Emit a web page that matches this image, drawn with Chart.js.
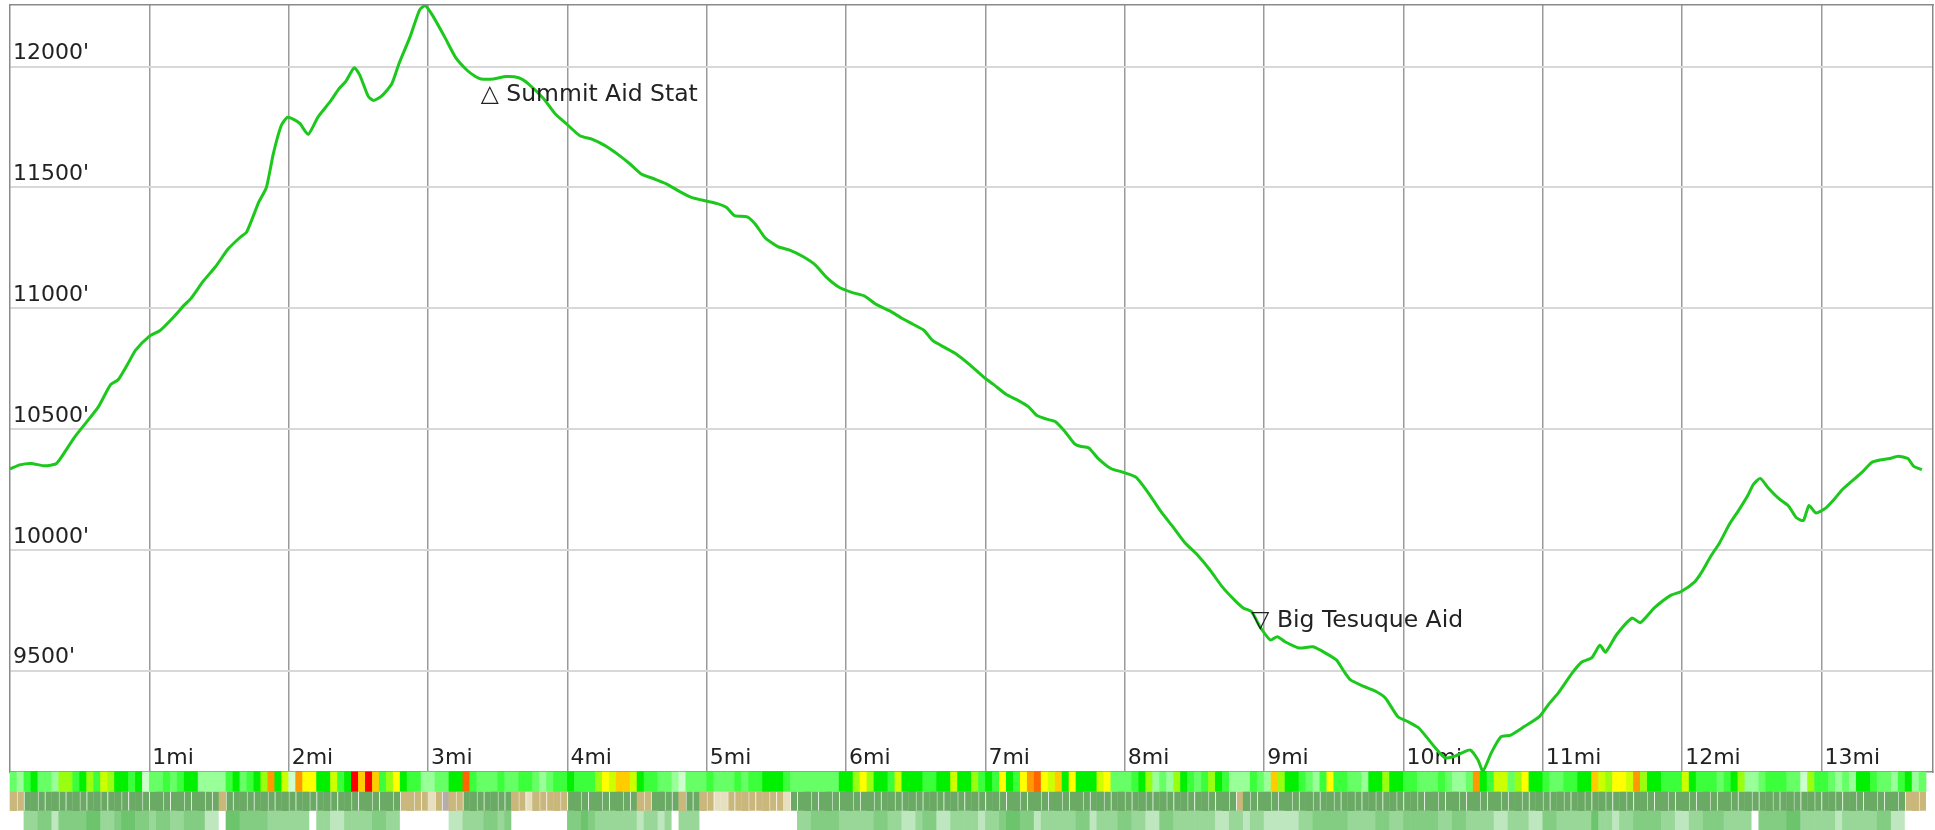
<!DOCTYPE html>
<html>
<head>
<meta charset="utf-8">
<script src="https://cdn.jsdelivr.net/npm/chart.js@4.4.1/dist/chart.umd.min.js"></script>
<style>
  html, body { margin: 0; padding: 0; background: #ffffff; }
  #wrap { width: 1935px; height: 830px; position: relative; }
</style>
</head>
<body>
<div id="wrap"><canvas id="chart"></canvas></div>
<script>
// ---------- DATA ----------
const miles = [
  0.00, 0.07, 0.15, 0.25, 0.33, 0.37, 0.46, 0.545, 0.634, 0.722, 0.776, 0.856, 0.90, 0.997,
  1.077, 1.166, 1.254, 1.299, 1.387, 1.476, 1.565, 1.654, 1.698, 1.786, 1.84, 1.89, 1.946, 1.99,
  2.035, 2.08, 2.14, 2.21, 2.30, 2.36, 2.41, 2.47, 2.51, 2.57, 2.61, 2.67, 2.74, 2.79, 2.87, 2.94, 2.98,
  3.03, 3.12, 3.20, 3.28, 3.34, 3.38, 3.47, 3.56, 3.65, 3.72, 3.83, 3.91, 3.99,
  4.09, 4.18, 4.27, 4.36, 4.45, 4.53, 4.62, 4.71, 4.80, 4.89, 4.995,
  5.07, 5.14, 5.20, 5.29, 5.35, 5.42, 5.51, 5.60, 5.69, 5.78, 5.86, 5.95,
  6.04, 6.13, 6.22, 6.31, 6.40, 6.48, 6.56, 6.62, 6.71, 6.79, 6.88, 6.99,
  7.06, 7.15, 7.24, 7.31, 7.37, 7.44, 7.50, 7.57, 7.64, 7.68, 7.74, 7.81, 7.90, 7.99,
  8.08, 8.17, 8.26, 8.35, 8.43, 8.52, 8.61, 8.70, 8.79, 8.85, 8.91, 8.97,
  9.045, 9.095, 9.15, 9.25, 9.35, 9.45, 9.52, 9.57, 9.62, 9.72, 9.80, 9.87, 9.96,
  10.03, 10.11, 10.23, 10.30, 10.36, 10.42, 10.48, 10.535, 10.57, 10.63, 10.70, 10.77, 10.87, 10.975,
  11.04, 11.11, 11.21, 11.28, 11.35, 11.41, 11.45, 11.53, 11.64, 11.70, 11.80, 11.92, 11.99,
  12.09, 12.14, 12.20, 12.27, 12.34, 12.41, 12.47, 12.51, 12.56, 12.62, 12.69, 12.76, 12.82, 12.87, 12.91, 12.96,
  13.03, 13.09, 13.15, 13.22, 13.29, 13.36, 13.42, 13.49, 13.55, 13.62, 13.66, 13.72
];
const elevations = [
  10335, 10352, 10358, 10348, 10356, 10385, 10464, 10526, 10592, 10684, 10704, 10781, 10826, 10883,
  10908, 10959, 11015, 11041, 11112, 11173, 11245, 11295, 11315, 11440, 11500, 11640, 11755, 11790,
  11782, 11765, 11720, 11791, 11857, 11908, 11939, 11995, 11965, 11878, 11860, 11880, 11929, 12010, 12122, 12235, 12252,
  12214, 12122, 12036, 11985, 11959, 11949, 11949, 11959, 11954, 11929, 11867, 11806, 11765,
  11714, 11699, 11673, 11638, 11597, 11556, 11536, 11515, 11485, 11459, 11444,
  11434, 11418, 11383, 11378, 11347, 11291, 11255, 11240, 11214, 11179, 11128, 11087,
  11066, 11051, 11015, 10990, 10959, 10934, 10908, 10867, 10837, 10811, 10770, 10714,
  10684, 10643, 10617, 10592, 10556, 10541, 10531, 10490, 10439, 10429, 10423, 10378, 10337, 10321,
  10301, 10235, 10158, 10092, 10031, 9980, 9918, 9847, 9791, 9760, 9744, 9682,
  9627, 9641, 9620, 9594, 9599, 9570, 9544, 9500, 9462, 9434, 9415, 9387, 9310,
  9290, 9263, 9180, 9139, 9145, 9160, 9172, 9131, 9085, 9160, 9227, 9234, 9270, 9310,
  9360, 9407, 9490, 9536, 9553, 9606, 9577, 9650, 9718, 9699, 9760, 9813, 9827,
  9868, 9908, 9969, 10031, 10107, 10168, 10224, 10270, 10296, 10255, 10214, 10184, 10133, 10122, 10184, 10153,
  10173, 10209, 10250, 10286, 10321, 10362, 10372, 10378, 10388, 10378, 10347, 10332
];
const yTickValues = [9500, 10000, 10500, 11000, 11500, 12000];
const xTickValues = [1, 2, 3, 4, 5, 6, 7, 8, 9, 10, 11, 12, 13];

const annotationLabels = ['Summit Aid Stat', 'Big Tesuque Aid'];
const annotationSymbols = ['\u25B3', '\u25BD'];
const annotationMiles = [3.45, 8.98];
const annotationElevations = [11940, 9682];

// strip bands along the track (one code per 0.05 mi segment)
const stripStep = 0.05;
const slopeCodes =
  'CDBACCDFFBAFBHFAABAECCBCBAADDDDBACBAFOAHEOYYAA' +
  'HBARJRJBFYABBDDCCAAQBCCCBCCBBCDCBBABBBFYHJJHAB' +
  'BCCDECCCBCCCBCBBAAABCCCCCCCAAFYFAABHAAABBAAHAA' +
  'FBABYABYOQYHJAYAAAHYCCCBAFDCDFABCBFABDDDBCDJFA' +
  'ABCDBYBBCCDAAFAABBCCCBCDDCOABHHCFYAABCCBBAAJH' +
  'FYYHOFAABBBHABBBCBAFDDCBBBCCEFBBCDCDAABCCDBADC';
const surfaceCodes =
  'TTGGGGGGGGGGGGGGGGGGGGGGGGGGGGTGGGGGGGGGGGGGGG' +
  'GGGGGGGGGGTTTTPTSTTGGGGGGGTTPTTTTTGGGGGGGGGGTT' +
  'GGGGTGGTTPPTTTTTTTTPGGGGGGGGGGGGGGGGGGGGGGGGGG' +
  'GGGGGGGGGGGGGGGGGGGGGGGGGGGGGGGGGGGGGGTGGGGGGG' +
  'GGGGGGGGGGGGGGGGGGGGGGGGGGGGGGGGGGGGGGGGGGGGG' +
  'GGGGGGGGGGGGGGGGGGGGGGGGGGGGGGGGGGGGGGGGGGGTTT';
const coverCodes =
  'wwccbbdbbbbaaccbaabbcbbccbbbddwaabbbbccccccwc' +
  'cddccccbbccwwwwwwwddcccbbcbwwwwwwwwbbabccccccdc' +
  'cdcwcccwwwwwwwwwwwwwwccbbbbcccccbbccddcbbddc' +
  'cccdccbaabbdcccccbbdcccbbccddbbccccccddccdccdd' +
  'dddccbbbbbccccbbccbbbbbccbbccccddcccddbbcccccacc' +
  'dccbbbbccddccbbbccccwbbbbaacccccdcccccbbddwww';

// ---------- STYLES ----------
const slopeColors = {
  A: '#00f000', B: '#3cff3c', C: '#66ff66', D: '#99ff99', E: '#ccffcc',
  F: '#99ff11', H: '#ccff00', Y: '#ffff00', J: '#ffcc00', O: '#ff9900', Q: '#ff6600', R: '#ff0000'
};
const surfaceColors = { G: '#6aaa64', T: '#c9b77c', P: '#e6e0c0', S: '#b5aea6' };
const coverColors = { a: '#6cc46c', b: '#82cd82', c: '#99d799', d: '#bfe7bf', w: '#ffffff' };

const FONT = "'DejaVu Sans'";
Chart.defaults.font.family = FONT;

function bandDataset(codes, colors, lo, hi, label, withLines) {
  const chars = codes.split('');
  return {
    type: 'bar',
    label: label,
    xAxisID: 'x',
    yAxisID: 'yb',
    data: chars.map((c, i) => ({ x: (i + 0.5) * stripStep, y: [lo, hi] })),
    backgroundColor: chars.map(c => colors[c]),
    borderWidth: withLines ? (ctx => (ctx.dataIndex % 3 === 0 ? 0 : { left: 1, right: 0, top: 0, bottom: 0 })) : 0,
    borderColor: 'rgba(255,255,255,0.28)',
    borderSkipped: false,
    barPercentage: 1,
    categoryPercentage: 1,
    grouped: false,
    clip: false
  };
}

const annotationPlugin = {
  id: 'waypoints',
  afterDatasetsDraw(chart) {
    const { ctx, scales } = chart;
    ctx.save();
    ctx.font = '23.5px ' + FONT;
    ctx.fillStyle = '#222222';
    ctx.textAlign = 'left';
    ctx.textBaseline = 'alphabetic';
    annotationLabels.forEach((lab, i) => {
      const px = scales.x.getPixelForValue(annotationMiles[i]);
      const py = scales.y.getPixelForValue(annotationElevations[i]);
      const up = annotationSymbols[i] === '\u25B3';
      ctx.fillText(annotationSymbols[i] + ' ' + lab, px - 10, up ? py + 20 : py);
    });
    ctx.restore();
  }
};

const zeroFit = s => { s.paddingLeft = 0; s.paddingRight = 0; s.paddingTop = 0; s.paddingBottom = 0; };

new Chart(document.getElementById('chart'), {
  type: 'line',
  data: {
    datasets: [
      {
        type: 'line',
        label: 'Elevation',
        xAxisID: 'x',
        yAxisID: 'y',
        data: miles.map((m, i) => ({ x: m, y: elevations[i] })),
        borderColor: '#1cc81c',
        borderWidth: 3,
        pointRadius: 0,
        tension: 0.2,
        fill: false
      },
      bandDataset(slopeCodes, slopeColors, -1, 0, 'Slope', false),
      bandDataset(surfaceCodes, surfaceColors, -2, -1, 'Surface', true),
      bandDataset(coverCodes, coverColors, -3, -2, 'Cover', false)
    ]
  },
  options: {
    responsive: true,
    maintainAspectRatio: false,
    animation: false,
    events: [],
    layout: { padding: { left: 10, top: 5, right: 2, bottom: 58 } },
    plugins: { legend: { display: false }, tooltip: { enabled: false } },
    scales: {
      x: {
        type: 'linear', position: 'bottom', min: 0, max: 13.8, offset: false,
        afterBuildTicks: s => { s.ticks = xTickValues.map(v => ({ value: v })); },
        afterFit: s => { s.height = 0; zeroFit(s); },
        grid: { color: '#9a9a9a', lineWidth: 1.5, drawTicks: false, offset: false },
        border: { display: true, color: '#8a8a8a', width: 1.5 },
        ticks: {
          mirror: true, align: 'start', labelOffset: 3, padding: 1, autoSkip: false,
          maxRotation: 0, minRotation: 0,
          font: { size: 22, family: FONT }, color: '#222222',
          callback: v => v + 'mi'
        }
      },
      y: {
        type: 'linear', position: 'left', min: 9081, max: 12255,
        afterBuildTicks: s => { s.ticks = yTickValues.map(v => ({ value: v })); },
        afterFit: s => { s.width = 0; zeroFit(s); },
        grid: { color: '#d8d8d8', lineWidth: 2, drawTicks: false },
        border: { display: true, color: '#8a8a8a', width: 1.5 },
        ticks: {
          mirror: true, padding: 3, labelOffset: -13,
          font: { size: 22, family: FONT }, color: '#222222',
          callback: v => v + "'"
        }
      },
      yb: {
        type: 'linear', display: false, min: 0, max: 39.7
      },
      x2: {
        type: 'linear', position: 'top', min: 0, max: 1,
        grid: { display: false, drawTicks: false },
        ticks: { display: false },
        border: { display: true, color: '#8a8a8a', width: 1.5 },
        afterFit: s => { s.height = 0; zeroFit(s); }
      },
      y2: {
        type: 'linear', position: 'right', min: 0, max: 1,
        grid: { display: false, drawTicks: false },
        ticks: { display: false },
        border: { display: true, color: '#8a8a8a', width: 1.5 },
        afterFit: s => { s.width = 0; zeroFit(s); }
      }
    }
  },
  plugins: [annotationPlugin]
});
</script>
</body>
</html>
